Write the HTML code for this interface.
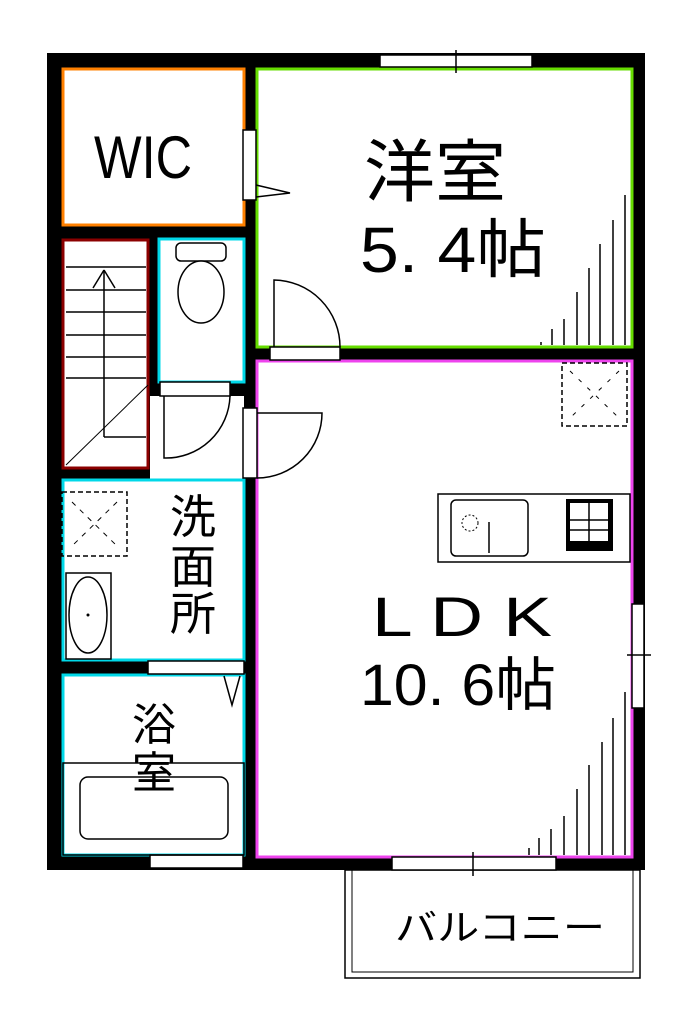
<!DOCTYPE html>
<html><head><meta charset="utf-8"><style>
body{margin:0;background:#fff;}
svg{display:block;}
text{font-family:"Liberation Sans","Noto Sans CJK JP",sans-serif;fill:#000;}
</style></head><body>
<svg width="700" height="1010" viewBox="0 0 700 1010" xmlns="http://www.w3.org/2000/svg">
<rect width="700" height="1010" fill="#fff"/>
<rect x="47" y="53" width="598" height="817" fill="#000"/>
<rect x="345" y="870" width="295" height="108" fill="none" stroke="#000" stroke-width="1.5"/>
<rect x="352" y="870" width="281" height="102" fill="none" stroke="#000" stroke-width="1"/>
<rect x="63" y="69" width="181" height="156" fill="#fff" stroke="#ff8000" stroke-width="3"/>
<rect x="257" y="69" width="375" height="278" fill="#fff" stroke="#66dd00" stroke-width="3"/>
<rect x="257" y="361" width="375" height="496" fill="#fff" stroke="#ee44ee" stroke-width="3"/>
<rect x="63" y="240" width="85" height="228" fill="#fff" stroke="#8b0000" stroke-width="3"/>
<rect x="159" y="239" width="85" height="143" fill="#fff" stroke="#00d8e8" stroke-width="3"/>
<rect x="150" y="396" width="94" height="84" fill="#fff"/>
<rect x="63" y="480" width="181" height="180" fill="#fff" stroke="#00d8e8" stroke-width="3"/>
<rect x="63" y="675" width="181" height="180" fill="#fff" stroke="#00d8e8" stroke-width="3"/>
<g stroke="#000" stroke-width="1.5">
<line x1="66" y1="267" x2="146" y2="267"/><line x1="66" y1="290" x2="146" y2="290"/>
<line x1="66" y1="312" x2="146" y2="312"/><line x1="66" y1="335" x2="146" y2="335"/>
<line x1="66" y1="357" x2="146" y2="357"/><line x1="66" y1="378" x2="146" y2="378"/>
<line x1="104" y1="270" x2="104" y2="437"/><line x1="104" y1="437" x2="146" y2="437"/>
<line x1="93" y1="288" x2="104" y2="270"/><line x1="115" y1="288" x2="104" y2="270"/>
<line x1="66" y1="465" x2="148" y2="385" stroke-width="1"/>
</g>
<rect x="380" y="55" width="152" height="12" fill="#fff" stroke="#000" stroke-width="1.5"/>
<line x1="456" y1="50" x2="456" y2="73" stroke="#000" stroke-width="1.5"/>
<rect x="392" y="857" width="164" height="13" fill="#fff" stroke="#000" stroke-width="1.5"/>
<line x1="473" y1="852" x2="473" y2="876" stroke="#000" stroke-width="1.5"/>
<rect x="632" y="604" width="12" height="104" fill="#fff" stroke="#000" stroke-width="1.5"/>
<line x1="627" y1="655" x2="651" y2="655" stroke="#000" stroke-width="1.5"/>
<rect x="150" y="855" width="93" height="13" fill="#fff" stroke="#000" stroke-width="1.5"/>
<g fill="#fff" stroke="#000" stroke-width="1.5">
<rect x="243" y="130" width="13" height="70"/>
<polyline points="256,185 290,193 256,197" fill="none"/>
<rect x="270" y="347" width="70" height="13"/>
<path d="M274,347 L274,280 A67,67 0 0 1 340,347" fill="none"/>
<rect x="243" y="408" width="14" height="70"/>
<path d="M257,413 L322,413 A65,65 0 0 1 257,478" fill="none"/>
<rect x="160" y="382" width="70" height="14"/>
<path d="M164,396 L164,458 A64,64 0 0 0 230,396" fill="none"/>
<rect x="148" y="661" width="96" height="13"/>
<polyline points="224,676 232,705 240,676" fill="none"/>
</g>
<g fill="#fff" stroke="#000" stroke-width="1.5">
<rect x="176" y="243" width="50" height="18" rx="5"/>
<ellipse cx="201" cy="292" rx="23" ry="31"/>
</g>
<rect x="62" y="492" width="65" height="64" fill="none" stroke="#000" stroke-width="1.5" stroke-dasharray="5,3"/>
<line x1="72" y1="502" x2="117" y2="546" stroke="#000" stroke-dasharray="5,6"/>
<line x1="117" y1="502" x2="72" y2="546" stroke="#000" stroke-dasharray="5,6"/>
<rect x="66" y="573" width="45" height="86" fill="none" stroke="#000" stroke-width="1.5"/>
<ellipse cx="88" cy="615" rx="19" ry="38" fill="none" stroke="#000" stroke-width="1.5"/>
<circle cx="88" cy="615" r="1.5"/>
<rect x="63" y="763" width="181" height="92" fill="none" stroke="#000" stroke-width="1.5"/>
<rect x="80" y="777" width="148" height="62" rx="8" fill="none" stroke="#000" stroke-width="1.5"/>
<rect x="562" y="363" width="65" height="63" fill="none" stroke="#000" stroke-width="1.5" stroke-dasharray="5,3"/>
<line x1="570" y1="371" x2="619" y2="418" stroke="#000" stroke-dasharray="4,8"/>
<line x1="619" y1="371" x2="570" y2="418" stroke="#000" stroke-dasharray="4,8"/>
<rect x="438" y="494" width="192" height="68" fill="none" stroke="#000" stroke-width="1.5"/>
<rect x="451" y="500" width="77" height="56" rx="5" fill="none" stroke="#000" stroke-width="1.5"/>
<circle cx="470" cy="523" r="8" fill="none" stroke="#000" stroke-dasharray="2,2"/>
<line x1="489" y1="522" x2="489" y2="553" stroke="#000" stroke-width="1.5"/>
<rect x="566" y="499" width="47" height="52" fill="#000"/>
<rect x="570" y="503" width="38" height="38" fill="#fff"/>
<g stroke="#000" stroke-width="1.5"><line x1="570" y1="520" x2="608" y2="520"/><line x1="570" y1="530" x2="608" y2="530"/><line x1="589" y1="503" x2="589" y2="541"/></g>
<g stroke="#000" stroke-width="1.5">
<line x1="541" y1="345" x2="541" y2="342"/><line x1="552" y1="345" x2="552" y2="329"/>
<line x1="564" y1="345" x2="564" y2="319"/><line x1="577" y1="345" x2="577" y2="292"/>
<line x1="589" y1="345" x2="589" y2="268"/><line x1="600" y1="345" x2="600" y2="244"/>
<line x1="613" y1="345" x2="613" y2="220"/><line x1="625" y1="345" x2="625" y2="195"/>
<line x1="529" y1="855" x2="529" y2="848"/><line x1="539" y1="855" x2="539" y2="838"/>
<line x1="551" y1="855" x2="551" y2="829"/><line x1="564" y1="855" x2="564" y2="816"/>
<line x1="577" y1="855" x2="577" y2="789"/><line x1="589" y1="855" x2="589" y2="765"/>
<line x1="602" y1="855" x2="602" y2="742"/><line x1="613" y1="855" x2="613" y2="718"/>
<line x1="625" y1="855" x2="625" y2="692"/>
</g>
<text x="94" y="178" font-size="60" textLength="98" lengthAdjust="spacingAndGlyphs">WIC</text>
<text x="364" y="196" font-size="68" textLength="142" lengthAdjust="spacingAndGlyphs">洋室</text>
<text x="360" y="272" font-size="64" textLength="186" lengthAdjust="spacingAndGlyphs">5. 4帖</text>
<text x="372" y="636" font-size="56" textLength="180" lengthAdjust="spacingAndGlyphs">L D K</text>
<text x="360" y="705" font-size="58" textLength="196" lengthAdjust="spacingAndGlyphs">10. 6帖</text>
<text x="193" y="533" font-size="46" text-anchor="middle">洗</text>
<text x="193" y="583" font-size="46" text-anchor="middle">面</text>
<text x="193" y="630" font-size="46" text-anchor="middle">所</text>
<text x="154" y="740" font-size="44" text-anchor="middle">浴</text>
<text x="154" y="788" font-size="44" text-anchor="middle">室</text>
<text x="395" y="940" font-size="36" textLength="210" lengthAdjust="spacingAndGlyphs">バルコニー</text>
</svg>
</body></html>
